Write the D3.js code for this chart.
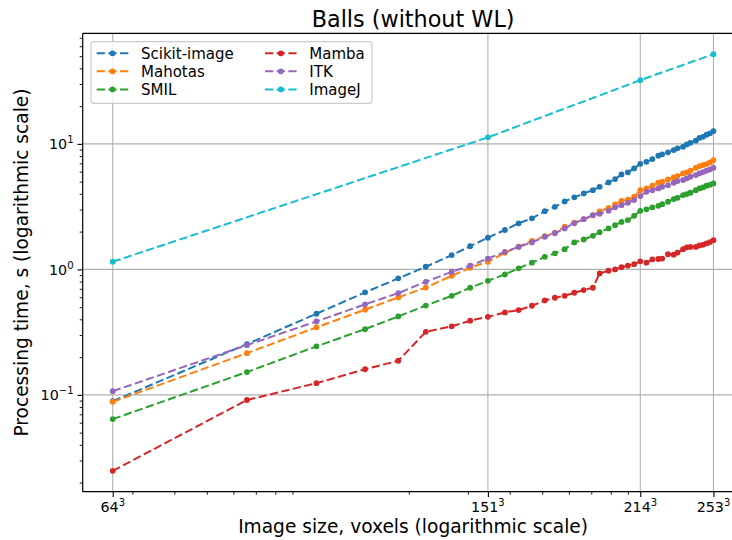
<!DOCTYPE html>
<html><head><meta charset="utf-8">
<script src="https://cdn.jsdelivr.net/npm/d3@7"></script>
<style>
body{margin:0;background:#fff}
svg{display:block}
text{font-family:"DejaVu Sans",sans-serif;fill:#000}
</style>
</head><body>
<svg id="chart" width="732" height="540"></svg>
<script>
// ---- data (cube side length N; image size = N^3 voxels) ----
const sides = [64,87,102,114,123,131,139,145,151,157,162,167,172,176,180,184,188,192,195,199,202,205,208,211,214,217,220,223,225,228,231,233,236,238,240,243,245,247,249,251,253];
const scikitImage = [0.089,0.254,0.443,0.656,0.848,1.049,1.30,1.53,1.79,2.06,2.33,2.55,2.91,3.15,3.48,3.75,4.03,4.28,4.55,4.93,5.24,5.71,5.93,6.38,6.94,7.20,7.57,8.04,8.25,8.56,8.92,9.21,9.48,9.91,10.2,10.6,11.18,11.39,11.82,12.13,12.65];
const mahotas = [0.088,0.215,0.345,0.477,0.598,0.716,0.889,1.03,1.15,1.356,1.52,1.69,1.84,1.96,2.19,2.36,2.51,2.69,2.90,3.09,3.30,3.52,3.60,3.79,4.28,4.42,4.64,4.90,4.99,5.21,5.41,5.54,5.82,5.93,6.11,6.45,6.65,6.78,6.90,7.12,7.43];
const smil = [0.0641,0.152,0.2435,0.334,0.422,0.515,0.616,0.714,0.811,0.912,1.02,1.13,1.26,1.34,1.45,1.64,1.73,1.85,1.98,2.12,2.25,2.39,2.47,2.67,2.93,3.01,3.12,3.21,3.31,3.46,3.63,3.72,3.91,3.98,4.08,4.28,4.42,4.50,4.64,4.72,4.84];
const mamba = [0.0248,0.091,0.124,0.160,0.187,0.318,0.352,0.39,0.419,0.454,0.474,0.513,0.566,0.594,0.616,0.651,0.684,0.714,0.929,0.975,1.0,1.04,1.07,1.10,1.16,1.13,1.20,1.21,1.22,1.32,1.31,1.36,1.45,1.50,1.51,1.51,1.55,1.57,1.61,1.65,1.71];
const itk = [0.107,0.249,0.385,0.526,0.647,0.796,0.957,1.07,1.22,1.38,1.51,1.64,1.82,1.94,2.12,2.33,2.51,2.71,2.77,2.93,3.12,3.25,3.39,3.57,3.84,4.15,4.28,4.42,4.55,4.69,4.90,5.05,5.15,5.31,5.47,5.64,5.82,5.96,6.11,6.26,6.45];
const imagejSides = [64,151,214,253];
const imagej = [1.15,11.27,32.2,51.9];

const xTickSides = [64,151,214,253];
const yTickExps = [-1,0,1];
const seriesNames = ["Scikit-image","Mahotas","SMIL","Mamba","ITK","ImageJ"];
const seriesColors = ["#1f77b4","#ff7f0e","#2ca02c","#d62728","#9467bd","#17becf"];

const series = [
  {name:seriesNames[0], n:sides, v:scikitImage, c:seriesColors[0]},
  {name:seriesNames[1], n:sides, v:mahotas, c:seriesColors[1]},
  {name:seriesNames[2], n:sides, v:smil, c:seriesColors[2]},
  {name:seriesNames[3], n:sides, v:mamba, c:seriesColors[3]},
  {name:seriesNames[4], n:sides, v:itk, c:seriesColors[4]},
  {name:seriesNames[5], n:imagejSides, v:imagej, c:seriesColors[5]}
].map(s => ({...s, pts: s.n.map((n,i)=>({x:n*n*n, y:s.v[i]}))}));

// ---- layout ----
const L=82.7, T=33.3, R=743.5, B=491.7;
const svg = d3.select("#chart");

const allX = series.flatMap(s=>s.pts.map(p=>p.x));
const allY = series.flatMap(s=>s.pts.map(p=>p.y));
const lx0=Math.log10(d3.min(allX)), lx1=Math.log10(d3.max(allX)), mx=(lx1-lx0)*0.05;
const ly0=Math.log10(d3.min(allY)), ly1=Math.log10(d3.max(allY)), my=(ly1-ly0)*0.05;
const x = d3.scaleLog().domain([10**(lx0-mx), 10**(lx1+mx)]).range([L,R]);
const y = d3.scaleLog().domain([10**(ly0-my), 10**(ly1+my)]).range([B,T]);

const inDom = (sc,v)=>{const d=sc.domain();return v>=d[0]&&v<=d[1];};
const minorX=[], minorY=[];
[1e5,1e6,1e7].forEach(dec=>{for(let m=2;m<=9;m++){const v=m*dec; if(inDom(x,v)) minorX.push(v);}});
[0.01,0.1,1,10].forEach(dec=>{for(let m=2;m<=9;m++){const v=m*dec; if(inDom(y,v)) minorY.push(v);}});
const majorX = xTickSides.map(n=>n*n*n);
const majorY = yTickExps.map(e=>10**e);

svg.append("defs").append("clipPath").attr("id","clip")
  .append("rect").attr("x",L).attr("y",T).attr("width",R-L).attr("height",B-T);

// grid
const grid = svg.append("g").attr("stroke","#b0b0b0").attr("stroke-width",1.1);
grid.selectAll(".gx").data(majorX).join("line")
  .attr("x1",d=>x(d)).attr("x2",d=>x(d)).attr("y1",T).attr("y2",B);
grid.selectAll(".gy").data(majorY).join("line")
  .attr("x1",L).attr("x2",R).attr("y1",d=>y(d)).attr("y2",d=>y(d));

// series
const line = d3.line().x(d=>x(d.x)).y(d=>y(d.y));
const plot = svg.append("g").attr("clip-path","url(#clip)");
series.forEach(s=>{
  const g = plot.append("g");
  g.append("path").datum(s.pts).attr("d",line).attr("fill","none")
    .attr("stroke",s.c).attr("stroke-width",2).attr("stroke-dasharray","8.2,3.5");
  g.selectAll("circle").data(s.pts).join("circle")
    .attr("cx",d=>x(d.x)).attr("cy",d=>y(d.y)).attr("r",2.2)
    .attr("fill",s.c).attr("stroke",s.c).attr("stroke-width",1.4);
});

// axes (ticks)
const axB = svg.append("g").attr("transform",`translate(0,${B})`)
  .call(d3.axisBottom(x).tickValues(majorX).tickSize(5.2).tickFormat(""));
const axBm = svg.append("g").attr("transform",`translate(0,${B})`)
  .call(d3.axisBottom(x).tickValues(minorX).tickSize(3).tickFormat(""));
const axL = svg.append("g").attr("transform",`translate(${L},0)`)
  .call(d3.axisLeft(y).tickValues(majorY).tickSize(5.2).tickFormat(""));
const axLm = svg.append("g").attr("transform",`translate(${L},0)`)
  .call(d3.axisLeft(y).tickValues(minorY).tickSize(3).tickFormat(""));
[axB,axBm,axL,axLm].forEach(a=>{a.select(".domain").remove(); a.selectAll("line").attr("stroke","#000").attr("stroke-width",1.1);});
axBm.selectAll("line").attr("stroke-width",0.9);
axLm.selectAll("line").attr("stroke-width",0.9);

// spines
const sp = svg.append("g").attr("stroke","#000").attr("stroke-width",1.2).attr("fill","none");
sp.append("line").attr("x1",L).attr("x2",L).attr("y1",T).attr("y2",B);
sp.append("line").attr("x1",L).attr("x2",R).attr("y1",B).attr("y2",B);
sp.append("line").attr("x1",L).attr("x2",R).attr("y1",T).attr("y2",T);
sp.append("line").attr("x1",R).attr("x2",R).attr("y1",T).attr("y2",B);

// tick labels
const xl = svg.append("g");
xTickSides.forEach(n=>{
  const t = xl.append("text").attr("x",x(n*n*n)).attr("y",511.6).attr("text-anchor","middle").attr("font-size",14.3);
  t.append("tspan").text(n);
  t.append("tspan").attr("font-size",10).attr("dy",-5.5).text("3");
});
const yl = svg.append("g");
yTickExps.forEach(e=>{
  const t = yl.append("text").attr("x",73.5).attr("y",y(10**e)+5.3).attr("text-anchor","end").attr("font-size",14.3);
  t.append("tspan").text("10");
  t.append("tspan").attr("font-size",10).attr("dy",-6).text(e<0?"\u2212"+(-e):String(e));
});

// axis labels and title
svg.append("text").attr("x",(L+R)/2).attr("y",533.3).attr("text-anchor","middle").attr("font-size",18.6)
  .text("Image size, voxels (logarithmic scale)");
svg.append("text").attr("transform",`translate(27.5,${(T+B)/2}) rotate(-90)`).attr("text-anchor","middle").attr("font-size",18.6)
  .text("Processing time, s (logarithmic scale)");
svg.append("text").attr("x",(L+R)/2).attr("y",26.7).attr("text-anchor","middle").attr("font-size",22.3)
  .text("Balls (without WL)");

// legend
const lg = svg.append("g");
lg.append("rect").attr("x",91).attr("y",41.7).attr("width",281).attr("height",61.6).attr("rx",3)
  .attr("fill","#fff").attr("fill-opacity",0.8).attr("stroke","#cccccc").attr("stroke-width",1.2);
const colX=[[96.7,128.3,141],[265,296.7,309.3]];
const rowY=[53.3,71.3,89.4];
series.forEach((s,i)=>{
  const c=colX[Math.floor(i/3)], ry=rowY[i%3];
  lg.append("line").attr("x1",c[0]).attr("x2",c[1]).attr("y1",ry).attr("y2",ry)
    .attr("stroke",s.c).attr("stroke-width",2).attr("stroke-dasharray","8.2,3.5");
  lg.append("circle").attr("cx",(c[0]+c[1])/2).attr("cy",ry).attr("r",2.2).attr("fill",s.c).attr("stroke",s.c).attr("stroke-width",1.4);
  lg.append("text").attr("x",c[2]).attr("y",ry+5.4).attr("font-size",15).text(s.name);
});
</script>
</body></html>
